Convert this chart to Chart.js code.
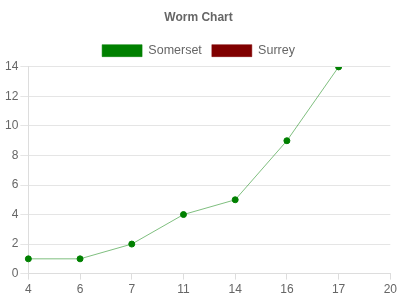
<!DOCTYPE html>
<html>
<head>
<meta charset="utf-8">
<script src="https://cdn.jsdelivr.net/npm/chart.js@4/dist/chart.umd.min.js"></script>
<style>
  html, body { margin: 0; padding: 0; background: #fff; }
  #wrap { width: 400px; height: 300px; }
</style>
</head>
<body>
<div id="wrap"><canvas id="wormChart"></canvas></div>
<script>
let overs = ['4', '6', '7', '11', '14', '16', '17', '20'];
let somersetRuns = [1, 1, 2, 4, 5, 9, 14, null];
let surreyRuns = [];
let yTicks = [0, 2, 4, 6, 8, 10, 12, 14];

Chart.defaults.font.family = '"Liberation Sans", Arial, sans-serif';
Chart.defaults.font.size = 12;
Chart.defaults.color = '#666';

const ctx = document.getElementById('wormChart').getContext('2d');
let wormChart = new Chart(ctx, {
    type: 'line',
    data: {
        labels: overs,
        datasets: [{
            label: 'Somerset',
            data: somersetRuns,
            borderColor: 'rgba(0, 128, 0, 0.5)',
            backgroundColor: '#008000',
            pointBackgroundColor: '#008000',
            pointBorderColor: '#008000',
            borderWidth: 1,
            pointRadius: 3,
            pointBorderWidth: 1,
            fill: false,
            tension: 0
        }, {
            label: 'Surrey',
            data: surreyRuns,
            borderColor: 'rgba(128, 0, 0, 0.5)',
            backgroundColor: '#800000',
            borderWidth: 1,
            fill: false
        }]
    },
    options: {
        responsive: true,
        maintainAspectRatio: false,
        animation: false,
        layout: { padding: { left: 3, right: 6, top: 0, bottom: 0 } },
        plugins: {
            title: {
                display: true,
                text: 'Worm Chart',
                color: '#666',
                font: { size: 12, weight: 'bold' },
                padding: { top: 10, bottom: 10 }
            },
            legend: {
                labels: {
                    boxWidth: 40,
                    boxHeight: 12,
                    color: '#666',
                    padding: 10,
                    font: { size: 12.5 },
                    generateLabels: (chart) => chart.data.datasets.map((ds, i) => ({
                        text: ds.label,
                        fillStyle: ds.backgroundColor,
                        strokeStyle: ds.borderColor,
                        lineWidth: 1,
                        datasetIndex: i,
                        fontColor: '#666'
                    }))
                }
            },
            tooltip: { enabled: false }
        },
        scales: {
            x: {
                offset: false,
                grid: {
                    drawOnChartArea: false,
                    color: '#ddd',
                    tickLength: 6
                },
                border: { color: '#ddd' },
                ticks: { color: '#666', maxRotation: 0, padding: 3 }
            },
            y: {
                min: 0,
                max: 14,
                grid: { color: '#e5e5e5', tickLength: 8 },
                border: { color: '#ddd' },
                afterBuildTicks: (axis) => { axis.ticks = yTicks.map(v => ({ value: v })); },
                ticks: { color: '#666', padding: 2 }
            }
        }
    }
});
</script>
</body>
</html>
